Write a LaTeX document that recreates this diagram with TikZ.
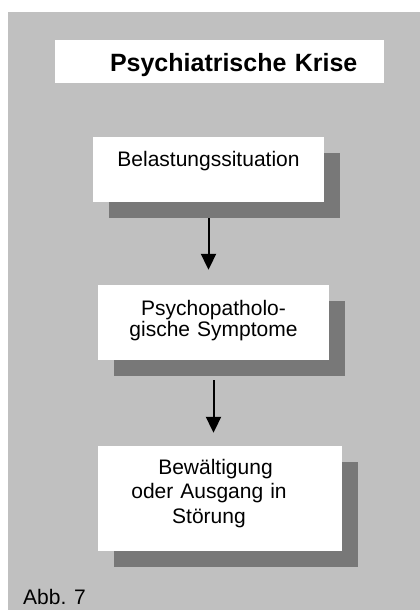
\documentclass[tikz,border=0pt]{standalone}
\usepackage{fontspec}
\setmainfont{Liberation Sans}
\usetikzlibrary{arrows.meta,shadows}
\definecolor{hintergrund}{RGB}{192,192,192}
\definecolor{schatten}{RGB}{120,120,120}
\tikzset{
	kasten/.style={fill=white, inner sep=0pt, align=center,
		drop shadow={shadow xshift=16pt, shadow yshift=-16pt, fill=schatten, opacity=1}},
	pfeil/.style={line width=2pt, -{Triangle[width=15pt,length=16pt]}}
}
\begin{document}
\begin{tikzpicture}[x=1pt, y=-1pt]
		\useasboundingbox (0,0) rectangle (420,611);
		% Hintergrund
		\fill [hintergrund] (8,12) rectangle (420,610);
		% Titel
		\node [fill=white, inner sep=0pt, text width=329pt, text height=31pt, text depth=12pt, align=left,
			font=\fontsize{25}{30}\selectfont\bfseries] (titel) at (219.5,61.5) {\hspace*{55pt}Psychiatrische Krise};
		% Kaesten
		\node [kasten, text width=231pt, text height=29pt, text depth=36pt,
			font=\fontsize{21}{24}\selectfont] (belastung) at (208.5,169.5) {Belastungssituation};
		\node [kasten, text width=231pt, text height=30pt, text depth=45pt,
			font=\fontsize{21}{21}\selectfont] (symptome) at (213.5,322.5) {Psychopatholo-\\gische Symptome};
		\node [kasten, text width=244pt, text height=28pt, text depth=77pt,
			font=\fontsize{21}{24.5}\selectfont] (bewaeltigung) at (220,498.5)
			{\hspace*{-9pt}Bewältigung\\\hspace*{-22pt}oder Ausgang in\\\hspace*{-22pt}Störung};
		% Pfeile
		\draw [pfeil, shorten <=16pt, shorten >=15pt] (belastung.south) -- (belastung.south |- symptome.north);
		\draw [pfeil, shorten <=20pt, shorten >=13pt] (symptome.south) -- (symptome.south |- bewaeltigung.north);
		% Beschriftung
		\node [anchor=base west, inner sep=0pt, font=\fontsize{21}{24}\selectfont] (abb) at (23,604) {Abb. 7};
	\end{tikzpicture}
\end{document}
